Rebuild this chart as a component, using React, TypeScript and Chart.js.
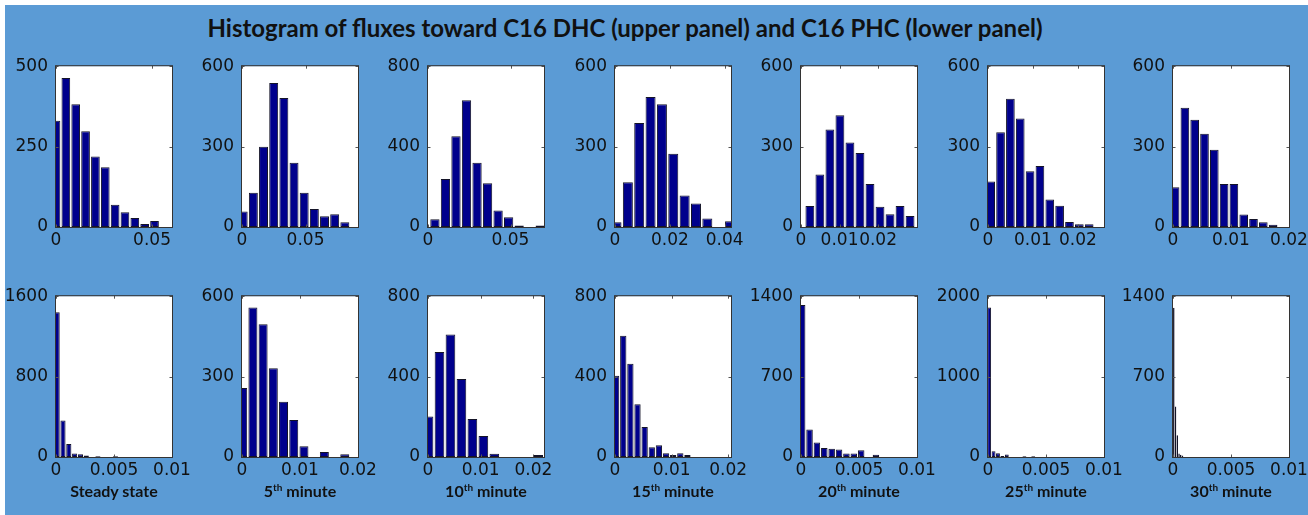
import React, { useEffect, useRef } from 'react';
import { Chart, registerables } from 'chart.js';

Chart.register(...registerables);

// Column captions (superscript ordinal suffix kept separately)
const captionMain = ['Steady state', '5', '10', '15', '20', '25', '30'];
const captionSup = ['', 'th', 'th', 'th', 'th', 'th', 'th'];
const captionTail = ['', ' minute', ' minute', ' minute', ' minute', ' minute', ' minute'];

// Upper row: fluxes toward C16 DHC (counts per bin)
const dhcCounts = [
  [330, 463, 382, 298, 219, 186, 69, 46, 28, 9, 19],
  [58, 128, 299, 537, 481, 240, 128, 67, 40, 48, 18],
  [39, 239, 452, 630, 320, 218, 82, 48, 8, 0, 8],
  [18, 167, 388, 485, 458, 273, 118, 88, 32, 0, 21],
  [78, 196, 364, 417, 315, 276, 160, 76, 48, 78, 41],
  [170, 354, 479, 405, 208, 228, 103, 79, 19, 10, 10],
  [148, 445, 400, 348, 288, 160, 160, 47, 30, 18, 8],
];
const dhcBinStart = [0, 0.00094, 0.0042, 0.00055, 0.0023, 0.0006, 0.00036];
const dhcBinWidth = [0.00513, 0.008, 0.00638, 0.00414, 0.0026, 0.00219, 0.00169];
const dhcXMax = [0.0604, 0.0913, 0.0703, 0.0423, 0.0301, 0.0258, 0.02];
const dhcXTicks = [
  [0, 0.05], [0, 0.05], [0, 0.05], [0, 0.02, 0.04],
  [0, 0.01, 0.02], [0, 0.01, 0.02], [0, 0.01, 0.02],
];
const dhcYTicks = [
  [0, 250, 500], [0, 300, 600], [0, 400, 800], [0, 300, 600],
  [0, 300, 600], [0, 300, 600], [0, 300, 600],
];

// Lower row: fluxes toward C16 PHC (counts per bin)
const phcCounts = [
  [1440, 362, 130, 35, 28, 15, 0, 8, 0, 0, 8],
  [257, 558, 495, 331, 206, 138, 40, 0, 19, 0, 10],
  [202, 522, 609, 388, 189, 105, 16, 0, 0, 0, 10],
  [404, 603, 464, 263, 149, 48, 58, 19, 10, 19, 10],
  [1324, 240, 127, 79, 71, 65, 31, 31, 59, 0, 20],
  [1860, 73, 48, 12, 32, 0, 0, 0, 8, 0, 8],
  [1300, 440, 190, 30, 20, 12, 0, 0, 0, 0, 0],
];
const phcBinStart = [0.0001, 0.00012, 0.0001, 0.0002, 0.0001, 0.0001, 0.00007];
const phcBinWidth = [0.000502, 0.00176, 0.00208, 0.00126, 0.000636, 0.00038, 0.00015];
const phcXMax = [0.01, 0.02, 0.022, 0.0205, 0.01, 0.01, 0.01];
const phcXTicks = [
  [0, 0.005, 0.01], [0, 0.01, 0.02], [0, 0.01, 0.02], [0, 0.01, 0.02],
  [0, 0.005, 0.01], [0, 0.005, 0.01], [0, 0.005, 0.01],
];
const phcYTicks = [
  [0, 800, 1600], [0, 300, 600], [0, 400, 800], [0, 400, 800],
  [0, 700, 1400], [0, 1000, 2000], [0, 700, 1400],
];

// Frame geometry
const columnLeft = [56, 242, 428, 615, 801, 988, 1173];
const rowTop = [62, 292];
const PLOT_W = 116;
const PLOT_H = 165;
const PAD_LEFT = 60;
const PAD_TOP = 14;
const PAD_RIGHT = 30;
const PAD_BOTTOM = 32;

const TICK_FONT = { family: 'DejaVu Sans', size: 17 };

// White plot box, dark outline and inward tick marks on all four sides
const axesFrame = {
  id: 'axesFrame',
  beforeDraw(chart: any) {
    const { ctx, chartArea: a } = chart;
    ctx.save();
    ctx.fillStyle = '#ffffff';
    ctx.fillRect(a.left, a.top, a.right - a.left, a.bottom - a.top);
    ctx.restore();
  },
  afterDatasetsDraw(chart: any) {
    const { ctx, chartArea: a } = chart;
    const xs = chart.scales.x;
    const ys = chart.scales.y;
    const l = a.left - 0.5;
    const r = a.right + 0.5;
    const t = a.top - 0.5;
    const b = a.bottom + 0.5;
    const len = 3;
    ctx.save();
    ctx.strokeStyle = '#555555';
    ctx.lineWidth = 1;
    ctx.beginPath();
    for (const tk of xs.ticks) {
      const px = Math.round(xs.getPixelForValue(tk.value)) + 0.5;
      ctx.moveTo(px, b);
      ctx.lineTo(px, b - len);
      ctx.moveTo(px, t);
      ctx.lineTo(px, t + len);
    }
    for (const tk of ys.ticks) {
      const py = Math.round(ys.getPixelForValue(tk.value)) + 0.5;
      ctx.moveTo(l, py);
      ctx.lineTo(l + len, py);
      ctx.moveTo(r, py);
      ctx.lineTo(r - len, py);
    }
    ctx.stroke();
    ctx.strokeStyle = '#333333';
    ctx.strokeRect(l, t, r - l, b - t);
    ctx.restore();
  },
};

type HistProps = {
  counts: number[];
  binStart: number;
  binWidth: number;
  xMax: number;
  xTicks: number[];
  yTicks: number[];
  left: number;
  top: number;
};

function Histogram(p: HistProps) {
  const ref = useRef<HTMLCanvasElement>(null);

  useEffect(() => {
    if (!ref.current) return;
    const points = p.counts.map((c, i) => ({ x: p.binStart + i * p.binWidth, y: c }));
    const chart = new Chart(ref.current, {
      type: 'bar',
      data: {
        datasets: [
          {
            data: points as any,
            backgroundColor: '#00008C',
            borderColor: '#141428',
            borderWidth: 1,
            borderSkipped: false,
            barPercentage: 0.88,
            categoryPercentage: 1,
            clip: 0,
          } as any,
        ],
      },
      options: {
        responsive: false,
        animation: false,
        devicePixelRatio: 1,
        events: [],
        layout: { padding: { left: 0, top: PAD_TOP, right: PAD_RIGHT, bottom: 0 } },
        plugins: { legend: { display: false }, tooltip: { enabled: false } },
        scales: {
          x: {
            type: 'linear',
            min: 0,
            max: p.xMax,
            offset: false,
            grid: { display: false, drawTicks: false },
            border: { display: false },
            afterBuildTicks: (s: any) => {
              s.ticks = p.xTicks.map((v) => ({ value: v }));
            },
            afterFit: (s: any) => {
              s.height = PAD_BOTTOM;
            },
            ticks: {
              autoSkip: false,
              maxRotation: 0,
              minRotation: 0,
              padding: 3,
              color: '#111111',
              font: TICK_FONT,
              callback: (v: any) => String(v),
            },
          },
          y: {
            type: 'linear',
            min: 0,
            max: p.yTicks[p.yTicks.length - 1],
            grid: { display: false, drawTicks: false },
            border: { display: false },
            afterBuildTicks: (s: any) => {
              s.ticks = p.yTicks.map((v) => ({ value: v }));
            },
            afterFit: (s: any) => {
              s.width = PAD_LEFT;
            },
            ticks: {
              autoSkip: false,
              padding: 8,
              color: '#111111',
              font: TICK_FONT,
              callback: (v: any) => String(v),
            },
          },
        },
      } as any,
      plugins: [axesFrame],
    });
    return () => chart.destroy();
  }, []);

  const w = PAD_LEFT + PLOT_W + PAD_RIGHT;
  const h = PAD_TOP + PLOT_H + PAD_BOTTOM;
  return (
    <canvas
      ref={ref}
      width={w}
      height={h}
      style={{ position: 'absolute', left: p.left - PAD_LEFT, top: p.top - PAD_TOP, width: w, height: h }}
    />
  );
}

export default function App() {
  return (
    <div style={{ position: 'absolute', left: 0, top: 0, width: 1308, height: 515, background: '#ffffff', overflow: 'hidden' }}>
      <div style={{ position: 'absolute', left: 5, top: 5, width: 1303, height: 510, background: '#5B9BD5' }} />
      <div
        style={{
          position: 'absolute',
          left: 0,
          width: 1250,
          top: 13,
          lineHeight: '30px',
          textAlign: 'center',
          fontFamily: 'Lato, "Open Sans", sans-serif',
          fontWeight: 700,
          fontSize: 24,
          color: '#111111',
        }}
      >
        Histogram of fluxes toward C16 DHC (upper panel) and C16 PHC (lower panel)
      </div>
      {columnLeft.map((x, i) => (
        <Histogram
          key={'dhc' + i}
          counts={dhcCounts[i]}
          binStart={dhcBinStart[i]}
          binWidth={dhcBinWidth[i]}
          xMax={dhcXMax[i]}
          xTicks={dhcXTicks[i]}
          yTicks={dhcYTicks[i]}
          left={x}
          top={rowTop[0]}
        />
      ))}
      {columnLeft.map((x, i) => (
        <Histogram
          key={'phc' + i}
          counts={phcCounts[i]}
          binStart={phcBinStart[i]}
          binWidth={phcBinWidth[i]}
          xMax={phcXMax[i]}
          xTicks={phcXTicks[i]}
          yTicks={phcYTicks[i]}
          left={x}
          top={rowTop[1]}
        />
      ))}
      {columnLeft.map((x, i) => (
        <div
          key={'cap' + i}
          style={{
            position: 'absolute',
            left: x + PLOT_W / 2 - 80,
            width: 160,
            top: 481,
            lineHeight: '20px',
            textAlign: 'center',
            fontFamily: 'Lato, "Open Sans", sans-serif',
            fontWeight: 700,
            fontSize: 16,
            color: '#111111',
            whiteSpace: 'nowrap',
          }}
        >
          {captionMain[i]}
          {captionSup[i] ? <sup style={{ fontSize: 10, lineHeight: 0 }}>{captionSup[i]}</sup> : null}
          {captionTail[i]}
        </div>
      ))}
    </div>
  );
}
